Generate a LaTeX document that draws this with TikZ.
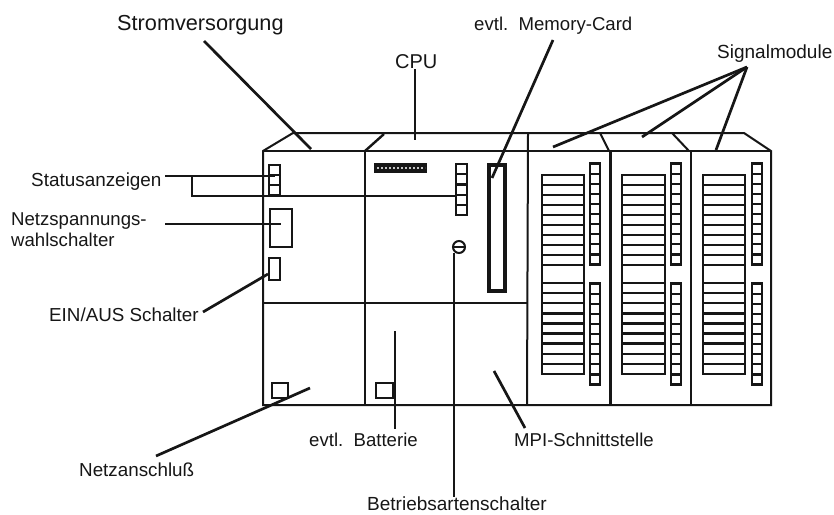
\documentclass[tikz,border=0pt]{standalone}
\usepackage{fontspec}
\setmainfont{Liberation Sans}
\definecolor{ink}{HTML}{161616}
\tikzset{
  wall/.style={draw=ink,line width=2pt},
  heavy/.style={draw=ink,line width=3pt},
  leader/.style={draw=ink,line width=2.7pt},
  fine/.style={draw=ink,line width=1.8pt},
  lab/.style={inner sep=0pt,text=ink,anchor=base west},
  cell/.style={draw=ink,line width=2.2pt,fill=white},
}
\newcommand{\fsz}[1]{\fontsize{#1}{#1}\selectfont}
\begin{document}
\begin{tikzpicture}[x=1pt,y=-1pt]
\useasboundingbox (0,0) rectangle (834,514);
% housing
\draw[wall] (263,151) -- (293,133) -- (744,133) -- (771,151) -- (771,405) -- (263,405) -- cycle;
\draw[wall,line width=2.5pt] (263,151) -- (771,151);
\draw[wall] (365,151) -- (365,405);
\draw[wall,line width=2.4pt] (365,151) -- (384,134);
\draw[wall] (528,133) -- (527,405);
\draw[heavy] (610,151) -- (610,405);
\draw[wall] (600,133) -- (609,151);
\draw[wall,line width=2.4pt] (691,151) -- (691,405);
\draw[wall] (672,133) -- (689,151);
\draw[wall] (263,303) -- (527,303);
\draw[wall,line width=2.5pt] (610,405) -- (771,405);
% power supply parts
\foreach \yy in {165,175,185} \draw[cell] (269,\yy) rectangle (280,\yy+10);
\draw[wall] (270,209) rectangle (292,247);
\draw[wall] (269,258) rectangle (280,280);
\draw[wall] (272,383) rectangle (288,398);
% CPU parts
\fill[ink] (374,163) rectangle (427,173);
\draw[white!75!ink,line width=2pt,dash pattern=on 2pt off 2pt] (377,168) -- (425,168);
\foreach \yy in {164,174.2,184.4,194.6,204.8} \draw[cell] (456,\yy) rectangle (467,\yy+10.2);
\draw[draw=ink,line width=2pt] (459,247) circle (6);
\draw[draw=ink,line width=1.6pt] (453,247) -- (465,247);
\draw[draw=ink,line width=4pt] (489,165) rectangle (505,291);
\draw[wall] (376,383) rectangle (393,398);
\draw[draw=ink,line width=3pt] (393,383) -- (393,398);
% signal modules
\foreach \gl/\gr/\ll/\lr in {542/584/590/600,622/665/671/681,703/745/752/762}{
  \draw[wall] (\gl,175) rectangle (\gr,374);
  \foreach \k in {0,...,9}{
    \draw[draw=ink,line width=2.4pt] (\gl,175+10*\k) -- (\gr,175+10*\k);
    \draw[draw=ink,line width=2.4pt] (\gl,283+10.1*\k) -- (\gr,283+10.1*\k);
    \draw[cell] (\ll,163.5+10.1*\k) rectangle (\lr,173.6+10.1*\k);
    \draw[cell] (\ll,283.5+10.1*\k) rectangle (\lr,293.6+10.1*\k);
  }
}
% labels
\node[lab,font=\fsz{21.7}] (strom) at (117,30) {Stromversorgung};
\node[lab,font=\fsz{20}] (cpu) at (395,68) {CPU};
\node[lab,font=\fsz{18.6}] (mem) at (474,30) {evtl.\ \ Memory-Card};
\node[lab,font=\fsz{19}] (sig) at (717,58) {Signalmodule};
\node[lab,font=\fsz{18.9}] (stat) at (31,186) {Statusanzeigen};
\node[lab,font=\fsz{18.6}] (netz) at (11,225) {Netzspannungs-};
\node[lab,font=\fsz{18.6}] (wahl) at (11,246) {wahlschalter};
\node[lab,font=\fsz{18.8}] (ein) at (49,321) {EIN/AUS Schalter};
\node[lab,font=\fsz{18.8}] (ansch) at (79,476) {Netzanschluß};
\node[lab,font=\fsz{18.6}] (batt) at (309,446) {evtl.\ \ Batterie};
\node[lab,font=\fsz{18.6}] (mpi) at (514,446) {MPI-Schnittstelle};
\node[lab,font=\fsz{19}] (betr) at (367,510) {Betriebsartenschalter};
% leader ends
\coordinate (stromA) at (204,41);   \coordinate (stromB) at (311,149);
\coordinate (cpuA) at (415,69);     \coordinate (cpuB) at (415,140);
\coordinate (memA) at (553,40);     \coordinate (memB) at (492,178);
\coordinate (sigA) at (747,67);     \coordinate (sigB) at (553,147);
\coordinate (sigC) at (642,137);    \coordinate (sigD) at (716,150);
\coordinate (statA) at (165,176);   \coordinate (statB) at (275,176);
\coordinate (statC) at (192,176);   \coordinate (statD) at (192,196);
\coordinate (statE) at (456,196);
\coordinate (netzA) at (165,224);   \coordinate (netzB) at (281,224);
\coordinate (einA) at (203,312);    \coordinate (einB) at (268,274);
\coordinate (anschA) at (156,456);  \coordinate (anschB) at (310,388);
\coordinate (battA) at (395,331);   \coordinate (battB) at (395,429);
\coordinate (betrA) at (454,253);   \coordinate (betrB) at (454,497);
\coordinate (mpiA) at (494,371);    \coordinate (mpiB) at (525,428);
% leaders
\draw[leader] (stromA) -- (stromB);
\draw[fine] (cpuA) -- (cpuB);
\draw[leader] (memA) -- (memB);
\draw[leader] (sigA) -- (sigB);
\draw[leader] (sigA) -- (sigC);
\draw[leader] (sigA) -- (sigD);
\draw[fine] (statA) -- (statB);
\draw[fine] (statC) -- (statD) -- (statE);
\draw[fine] (netzA) -- (netzB);
\draw[leader] (einA) -- (einB);
\draw[leader] (anschA) -- (anschB);
\draw[leader,line width=2.2pt] (battA) -- (battB);
\draw[fine,line width=2pt] (betrA) -- (betrB);
\draw[leader] (mpiA) -- (mpiB);
\end{tikzpicture}
\end{document}
